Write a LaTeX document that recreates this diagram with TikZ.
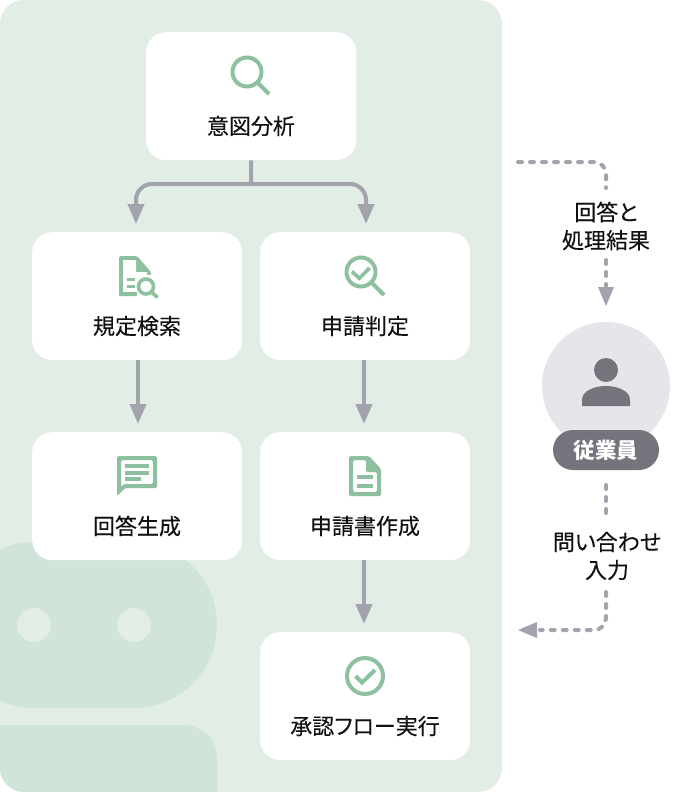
\documentclass[tikz,border=0pt]{standalone}
\usepackage{fontspec}
\setmainfont[RawFeature=+palt,FakeBold=0.2]{Noto Sans CJK JP}
\newfontfamily\plainface[RawFeature=+palt]{Noto Sans CJK JP}
\usetikzlibrary{arrows.meta}
\definecolor{panel}{HTML}{E2EDE5}
\definecolor{deco}{HTML}{D1E4DA}
\definecolor{accent}{HTML}{8CC09E}
\definecolor{conn}{HTML}{A3A3AD}
\definecolor{ink}{HTML}{111111}
\definecolor{avatar}{HTML}{E5E6EA}
\definecolor{slate}{HTML}{74747C}
\tikzset{
  x=1pt,y=-1pt,
  card/.style={fill=white,rounded corners=20pt,minimum width=210pt,minimum height=128pt,inner sep=0pt,anchor=north west},
  cardlabel/.style={font=\fontsize{22}{26}\selectfont,text=ink,inner sep=0pt,anchor=center},
  sidelabel/.style={font=\fontsize{22}{28}\selectfont,text=ink,inner sep=0pt,align=center,anchor=center},
  flow/.style={draw=conn,line width=4pt,-{Triangle[length=20pt,width=16pt]}},
  dots/.style={draw=conn,line width=4pt,line cap=round,dash pattern=on 4pt off 8pt},
  tiphead/.style={fill=conn},
  iconline/.style={draw=accent,line width=4pt},
  iconfill/.style={fill=accent},
}
\begin{document}
\begin{tikzpicture}
\useasboundingbox (0,0) rectangle (686,792);
\fill[white] (0,0) rectangle (686,792);
% panel and mascot
\begin{scope}
\clip[rounded corners=24pt] (0,0) rectangle (502,792);
\fill[panel] (0,0) rectangle (502,792);
\fill[deco,rounded corners=83pt] (-49,542) rectangle (217,708);
\fill[panel] (34,625) circle (17pt);
\fill[panel] (134,625) circle (17pt);
\fill[deco,rounded corners=33pt] (-49,725) rectangle (217,850);
\end{scope}
% cards
\node[card] (intent) at (146,32) {};
\node[card] (search) at (32,232) {};
\node[card] (judge) at (260,232) {};
\node[card] (answer) at (32,432) {};
\node[card] (draft) at (260,432) {};
\node[card] (exec) at (260,632) {};
\node[cardlabel] at (251,126) {意図分析};
\node[cardlabel] at (137,326) {規定検索};
\node[cardlabel] at (365,326) {申請判定};
\node[cardlabel] at (137,526) {回答生成};
\node[cardlabel] at (365,526) {申請書作成};
\node[cardlabel] at (365,726) {承認フロー実行};
% connectors
\coordinate (forkL) at (136,224);
\coordinate (forkR) at (366,224);
\draw[draw=conn,line width=4pt] (intent.south) -- (251,184);
\draw[flow,rounded corners=16pt] (251,184) -- (136,184) -- (forkL);
\draw[flow,rounded corners=16pt] (251,184) -- (366,184) -- (forkR);
\coordinate (a1) at (138,424);
\coordinate (a2) at (364,424);
\coordinate (a3) at (364,624);
\draw[flow] (138,360) -- (a1);
\draw[flow] (364,360) -- (a2);
\draw[flow] (364,560) -- (a3);
% icons
% magnifier
\draw[iconline] (247,72) circle (14.5pt);
\draw[iconline] (257.5,82.5) -- (269,94);
% doc search
\path[fill=accent,rounded corners=1.5pt] (119,256) -- (137,256) -- (151,272) -- (151,296) -- (119,296) -- cycle;
\fill[white] (123,260) -- (136,260) -- (136,272) -- (147,272) -- (147,275) -- (135,275) -- (135,292) -- (123,292) -- cycle;
\fill[white] (135,275) rectangle (159,298);
\fill[accent] (127,277.5) rectangle (135,281);
\fill[accent] (127,284.5) rectangle (135,288);
\fill[accent] (119,292) rectangle (137,296);
\draw[draw=accent,line width=3.6pt] (146,286.5) circle (7.5pt);
\draw[draw=accent,line width=3.6pt] (151.5,292) -- (157.5,297.5);
% check magnifier
\draw[iconline] (361,272) circle (14.5pt);
\draw[iconline] (371.5,282.5) -- (384,295);
\draw[draw=accent,line width=3.6pt] (352,271.5) -- (359.3,278.3) -- (369.5,268);
% speech bubble
\path[iconfill,even odd rule,rounded corners=1.5pt] (117,456) -- (157,456) -- (157,488) -- (125,488) -- (117,496) -- cycle
  (121,460) -- (121,487) -- (124,484) -- (153,484) -- (153,460) -- cycle;
\fill[accent] (125,464) rectangle (149,468);
\fill[accent] (125,471) rectangle (149,475);
\fill[accent] (125,477) rectangle (141,481);
% document
\path[iconfill,even odd rule,rounded corners=1.5pt] (349,456) -- (369,456) -- (381,469) -- (381,496) -- (349,496) -- cycle
  (353,460) -- (353,492) -- (377,492) -- (377,472) -- (366,472) -- (366,460) -- cycle;
\fill[accent] (357,475) rectangle (373,479);
\fill[accent] (357,484) rectangle (373,488);
% check circle
\draw[iconline] (365,676) circle (18pt);
\draw[iconline] (355.5,676) -- (362,682.5) -- (375,670);
% employee
\node[circle,fill=avatar,minimum size=128pt,inner sep=0pt] (person) at (606,386) {};
\fill[slate] (606,370) circle (12pt);
\fill[slate] (582,406) -- (582,400) .. controls (582,390) and (596,386) .. (606,386) .. controls (616,386) and (630,390) .. (630,400) -- (630,406) -- cycle;
\node[fill=slate,rounded corners=20pt,minimum width=106pt,minimum height=40pt,inner sep=0pt,text=white,font=\plainface\fontsize{21.5}{24}\selectfont\bfseries] (staff) at (606,450) {従業員};
% dashed connectors
\coordinate (outS) at (518,162);
\coordinate (outB) at (606,188);
\coordinate (outC) at (606,260);
\coordinate (outE) at (606,288);
\draw[dots,rounded corners=12pt] (outS) -- (606,162) -- (outB);
\draw[dots] (outC) -- (outE);
\fill[tiphead] (598,287) -- (614,287) -- (606,306) -- cycle;
\node[sidelabel] at (606,226) {回答と\\処理結果};
\node[sidelabel] at (607,556) {問い合わせ\\入力};
\coordinate (inS) at (606,485);
\coordinate (inB) at (606,517);
\coordinate (inC) at (606,592);
\coordinate (inE) at (540,630);
\draw[dots] (inS) -- (inB);
\draw[dots,rounded corners=12pt] (inC) -- (606,630) -- (inE);
\fill[tiphead] (537,622) -- (537,638) -- (518,630) -- cycle;
\end{tikzpicture}
\end{document}
